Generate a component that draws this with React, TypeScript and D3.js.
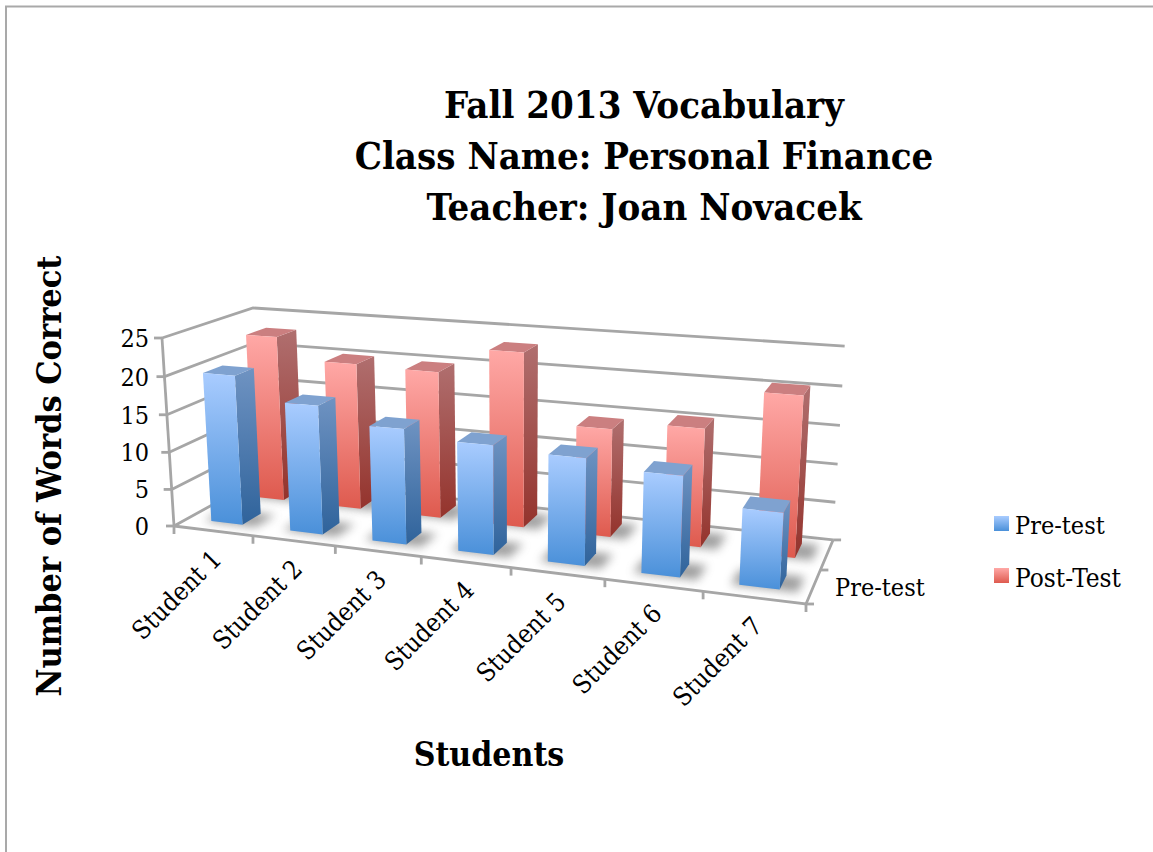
import React from "react";
import * as d3 from "d3";

const students = ["Student 1", "Student 2", "Student 3", "Student 4", "Student 5", "Student 6", "Student 7"];
const preTest = [20, 17, 15, 14, 13.5, 12.5, 9.3];
const postTest = [22.9, 20, 19.8, 23.2, 14.2, 15.3, 20.4];
const valueTicks = [0, 5, 10, 15, 20, 25];
const titleLines = ["Fall 2013 Vocabulary", "Class Name: Personal Finance", "Teacher: Joan Novacek"];

const FONT = "'DejaVu Serif Condensed', 'DejaVu Serif', serif";
const GRID = "#a6a6a6";

// projective camera, in homogeneous form, fitted to the corners of the plot box
const O = [174, 526];
const A = [806, 604];
const B = [261, 478];
const C = [162, 338];
const wx = 0.857;
const wy = 1.1115;
const wz = 0.966;

const xs = d3.scaleLinear().domain([0, students.length]).range([0, 1]);
const zs = d3.scaleLinear().domain([0, 25]).range([0, 1]);

function project(cat: number, depth: number, value: number): [number, number] {
  const X = xs(cat);
  const Y = depth;
  const Z = zs(value);
  const h = [O[0], O[1], 1];
  const a = [A[0], A[1], 1];
  const b = [B[0], B[1], 1];
  const c = [C[0], C[1], 1];
  const r = [0, 1, 2].map(
    (i) => h[i] + X * (wx * a[i] - h[i]) + Y * (wy * b[i] - h[i]) + Z * (wz * c[i] - h[i])
  );
  return [r[0] / r[2], r[1] / r[2]];
}

const poly = d3.line<[number, number]>().curve(d3.curveLinearClosed);
const seg = d3.line<[number, number]>();

const BAR_START = 0.3;
const BAR_END = 0.7;

type Palette = { front: string; side: string; top: string };
const pal = (id: string): Palette => ({ front: `url(#${id}F)`, side: `url(#${id}S)`, top: `url(#${id}T)` });

function Bar({ i, d0, d1, v, p }: { i: number; d0: number; d1: number; v: number; p: Palette }) {
  const c0 = i + BAR_START;
  const c1 = i + BAR_END;
  const f = [project(c0, d0, 0), project(c1, d0, 0), project(c1, d0, v), project(c0, d0, v)];
  const s = [project(c1, d0, 0), project(c1, d1, 0), project(c1, d1, v), project(c1, d0, v)];
  const t = [project(c0, d0, v), project(c1, d0, v), project(c1, d1, v), project(c0, d1, v)];
  return (
    <g>
      <path d={poly(s) as string} fill={p.side} />
      <path d={poly(t) as string} fill={p.top} />
      <path d={poly(f) as string} fill={p.front} />
    </g>
  );
}

function Shadow({ i, d0, d1 }: { i: number; d0: number; d1: number }) {
  const pad = 0.08;
  const pts = [
    project(i + BAR_START - pad, d0 - 0.01, 0),
    project(i + BAR_END + pad + 0.1, d0 - 0.01, 0),
    project(i + BAR_END + pad + 0.1, d1 + 0.01, 0),
    project(i + BAR_START - pad, d1 + 0.01, 0),
  ];
  return <path d={poly(pts) as string} fill="#777" opacity={0.7} filter="url(#blur)" />;
}

function Grad({ id, from, to }: { id: string; from: string; to: string }) {
  return (
    <linearGradient id={id} x1="0" y1="0" x2="0" y2="1">
      <stop offset="0" stopColor={from} />
      <stop offset="1" stopColor={to} />
    </linearGradient>
  );
}

export default function App() {
  const back: [number, number] = [0.64, 0.88];
  const front: [number, number] = [0.15, 0.36];
  const n = students.length;
  return (
    <svg width={1153} height={852} style={{ position: "absolute", left: 0, top: 0, background: "#fff" }} fontFamily={FONT}>
      <defs>
        <Grad id="bF" from="#a9ccff" to="#4a90d9" />
        <Grad id="bS" from="#6f93c2" to="#2f639b" />
        <Grad id="bT" from="#7fa2d0" to="#7fa2d0" />
        <Grad id="rF" from="#ffa8a6" to="#de5a4e" />
        <Grad id="rS" from="#b06f6f" to="#94332c" />
        <Grad id="rT" from="#cb7f80" to="#cb7f80" />
        <filter id="blur" x="-30%" y="-60%" width="160%" height="220%">
          <feGaussianBlur stdDeviation="5" />
        </filter>
      </defs>

      {/* page frame */}
      <path d="M6 852V6.5H1153" fill="none" stroke="#a9a9a9" strokeWidth={2} />

      {/* walls */}
      <g fill="none" stroke={GRID} strokeWidth={2.8}>
        {valueTicks.map((v) => (
          <path key={v} d={seg([project(0, 0, v), project(0, 1, v), project(n, 1, v)]) as string} />
        ))}
        <path d={seg([project(0, 0, 0), project(0, 0, 25)]) as string} />
        <path d={seg([project(0, 0, 0), project(n, 0, 0), project(n, 1, 0)]) as string} />
        {valueTicks.map((v) => {
          const p = project(0, 0, v);
          return <path key={v} d={seg([p, [p[0] - 8, p[1]]]) as string} />;
        })}
        {d3.range(n + 1).map((i) => {
          const p = project(i, 0, 0);
          return <path key={i} d={seg([p, [p[0], p[1] + 8]]) as string} />;
        })}
        {[0, 0.5, 1].map((d) => {
          const p = project(n, d, 0);
          return <path key={d} d={seg([p, [p[0] + 8, p[1]]]) as string} />;
        })}
      </g>

      {/* shadows */}
      {postTest.map((_, i) => <Shadow key={i} i={i} d0={back[0]} d1={back[1]} />)}
      {postTest.map((v, i) => <Bar key={i} i={i} d0={back[0]} d1={back[1]} v={v} p={pal("r")} />)}
      {preTest.map((_, i) => <Shadow key={i} i={i} d0={front[0]} d1={front[1]} />)}
      {preTest.map((v, i) => <Bar key={i} i={i} d0={front[0]} d1={front[1]} v={v} p={pal("b")} />)}

      {/* value labels */}
      <g fontSize={25} fill="#000" textAnchor="end">
        {valueTicks.map((v) => {
          const p = project(0, 0, v);
          return <text key={v} x={149} y={p[1] + 9}>{v}</text>;
        })}
      </g>

      {/* category labels */}
      <g fontSize={25.5} fill="#000" textAnchor="end">
        {students.map((s, i) => {
          const p = project(i + 0.5, 0, 0);
          const x = p[0] + 10;
          const y = p[1] + 30;
          return <text key={s} x={x} y={y} transform={`rotate(-45 ${x} ${y})`}>{s}</text>;
        })}
      </g>
      <text x={835} y={596} fontSize={25}>Pre-test</text>

      {/* titles */}
      <g fontSize={38} fontWeight="bold" textAnchor="middle">
        {titleLines.map((t, i) => (
          <text key={t} x={644} y={118 + i * 51}>{t}</text>
        ))}
      </g>
      <text x={489} y={766} fontSize={33.5} fontWeight="bold" textAnchor="middle">Students</text>
      <text transform="translate(61 476) rotate(-90)" fontSize={34} fontWeight="bold" textAnchor="middle">Number of Words Correct</text>

      {/* legend */}
      <rect x={994} y={516} width={15} height={15} fill="url(#bF)" />
      <text x={1015} y={534} fontSize={25}>Pre-test</text>
      <rect x={994} y={568} width={15} height={15} fill="url(#rF)" />
      <text x={1015} y={587} fontSize={26}>Post-Test</text>
    </svg>
  );
}
